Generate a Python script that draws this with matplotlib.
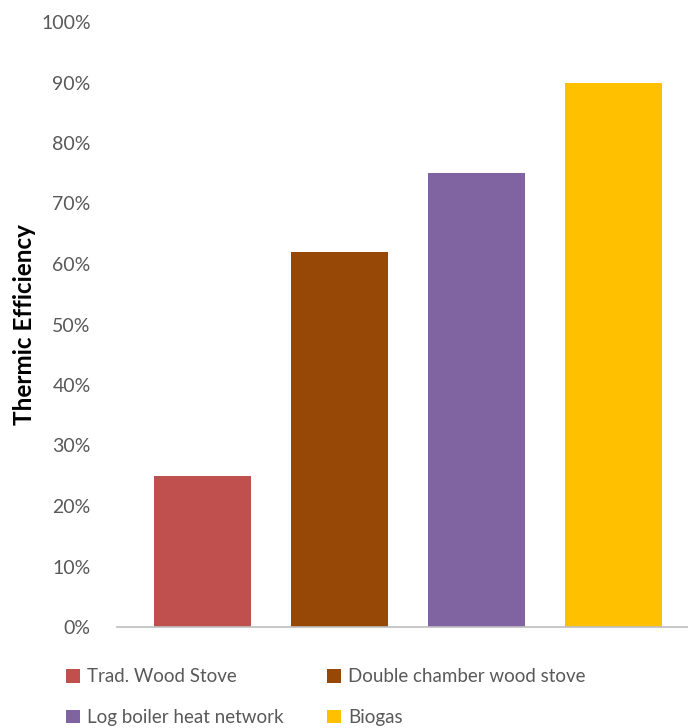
import matplotlib.pyplot as plt
from matplotlib.patches import Patch
from matplotlib.ticker import PercentFormatter

# data
categories = ["Trad. Wood Stove", "Double chamber wood stove",
              "Log boiler heat network", "Biogas"]
efficiency = [25, 62, 75, 90]
colors = ["#C0504D", "#974706", "#8064A2", "#FFC000"]

plt.rcParams["font.family"] = ["Lato", "DejaVu Sans"]

fig = plt.figure(figsize=(6.88, 7.28), dpi=100)
ax = fig.add_axes([117 / 688, 1 - 627 / 728, 1 - 117 / 688, (627 - 22) / 728])

x = range(len(categories))
ax.bar(x, efficiency, width=0.708, color=colors)

ax.set_xlim(-0.624, 3.544)
ax.set_ylim(0, 100)
ax.set_yticks(range(0, 101, 10))
ax.yaxis.set_major_formatter(PercentFormatter(decimals=0))
ax.set_xticks([])
ax.tick_params(axis="y", length=0, pad=19, labelsize=14, labelcolor="#595959")

for side in ["top", "right", "left"]:
    ax.spines[side].set_visible(False)
ax.spines["bottom"].set_color("#BFBFBF")
ax.spines["bottom"].set_linewidth(1.2)

# y axis title placed in figure coords
fig.text(25 / 688, 1 - 325 / 728, "Thermic Efficiency", rotation=90,
         ha="center", va="center", fontsize=17.5, fontweight="bold", color="black")

# legend, row-wise order
order = [0, 2, 1, 3]
handles = [Patch(facecolor=colors[i], label=categories[i]) for i in order]
fig.legend(handles=handles, ncol=2, frameon=False,
           loc="upper left", bbox_to_anchor=(58 / 688, 1 - 661 / 728),
           fontsize=13.5, labelcolor="#595959",
           handlelength=0.75, handleheight=0.75, handletextpad=0.4,
           columnspacing=2.3, labelspacing=1.25, borderaxespad=0)

fig.savefig("out.png", dpi=100)
